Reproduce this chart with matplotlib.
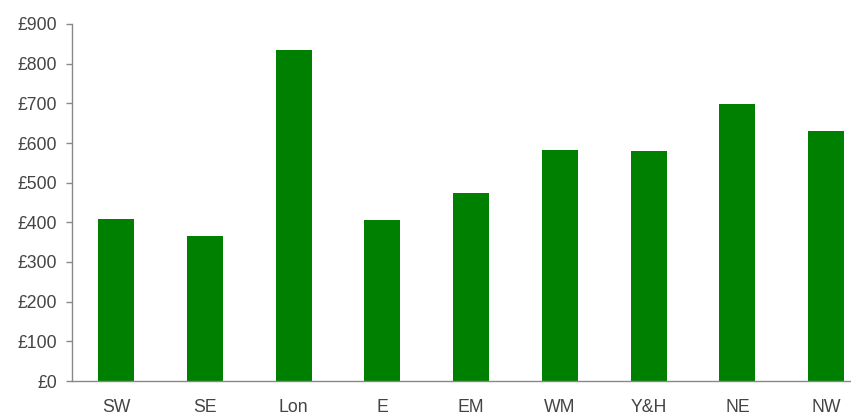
import matplotlib
matplotlib.use("Agg")
import matplotlib.pyplot as plt

# Данные
regions = ["SW", "SE", "Lon", "E", "EM", "WM", "Y&H", "NE", "NW"]
values = [408, 365, 834, 406, 474, 582, 580, 698, 630]
yticks = [0, 100, 200, 300, 400, 500, 600, 700, 800, 900]
ytick_labels = ["£" + str(v) for v in yticks]

plt.rcParams['font.family'] = ['Liberation Sans', 'DejaVu Sans']

fig = plt.figure(figsize=(8.51, 4.17), dpi=100)
ax = fig.add_axes([72 / 851, 36 / 417, (850 - 72) / 851, (381 - 24) / 417])

x = list(range(len(regions)))
ax.bar(x, values, width=0.406, color='#008000')

ax.set_xlim(-0.5, 8.27)
ax.set_ylim(0, 900)
ax.set_xticks(x)
ax.set_xticklabels(regions)
ax.set_yticks(yticks)
ax.set_yticklabels(ytick_labels)

for side in ['top', 'right']:
    ax.spines[side].set_visible(False)
for side in ['left', 'bottom']:
    ax.spines[side].set_color('#888888')
    ax.spines[side].set_linewidth(1)

ax.tick_params(axis='y', length=4.3, width=1, color='#888888', pad=6.5,
               labelsize=12.7, labelcolor='#444444')
ax.tick_params(axis='x', length=0, pad=13, labelsize=12.7, labelcolor='#444444')

fig.savefig("out.png", dpi=100)
